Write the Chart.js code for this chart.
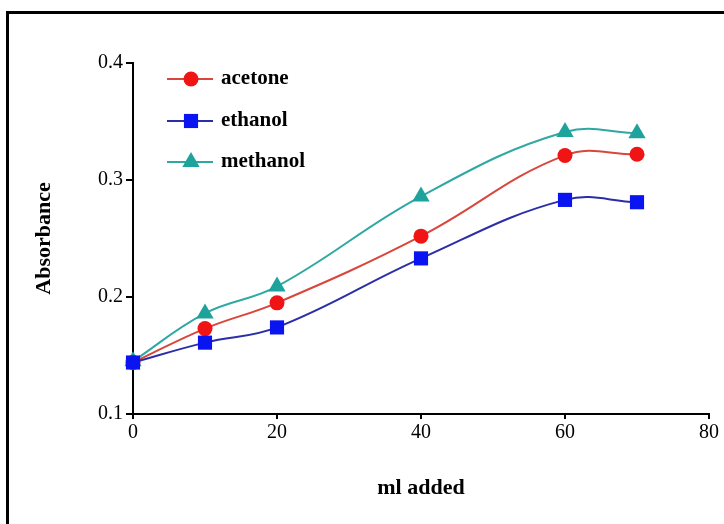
<!DOCTYPE html>
<html>
<head>
<meta charset="utf-8">
<script src="https://cdn.jsdelivr.net/npm/chart.js@4/dist/chart.umd.min.js"></script>
<style>
  html, body { margin: 0; padding: 0; background: #fff; overflow: hidden; }
  #wrap { position: relative; width: 724px; height: 524px; }
  #frame { position: absolute; left: 6px; top: 11px; width: 740px; height: 540px;
           border-left: 3px solid #000; border-top: 3px solid #000; pointer-events: none; }
</style>
</head>
<body>
<div id="wrap">
  <canvas id="c" width="724" height="524"></canvas>
  <div id="frame"></div>
</div>
<script>
const mlAdded = [0, 10, 20, 40, 60, 70];
const acetone = [0.144, 0.173, 0.195, 0.252, 0.321, 0.322];
const ethanol = [0.144, 0.161, 0.174, 0.233, 0.283, 0.281];
const methanol = [0.145, 0.186, 0.209, 0.286, 0.341, 0.340];
const xTicks = [0, 20, 40, 60, 80];
const yTicks = [0.1, 0.2, 0.3, 0.4];
const seriesNames = ['acetone', 'ethanol', 'methanol'];

const serif = "'Liberation Serif', 'DejaVu Serif', serif";

function pts(vals) { return mlAdded.map((x, i) => ({ x: x, y: vals[i] })); }

const styles = {
  acetone:  { line: '#d8463c', fill: '#f01414', shape: 'circle',   r: 7.5, order: 1 },
  ethanol:  { line: '#2b2ea6', fill: '#0a14f0', shape: 'rect',     r: 10,  order: 0 },
  methanol: { line: '#2fa8a3', fill: '#1ea39c', shape: 'triangle', r: 10,  order: 2 }
};
const seriesData = { acetone: acetone, ethanol: ethanol, methanol: methanol };

const datasets = seriesNames.map(n => ({
  label: n,
  data: pts(seriesData[n]),
  borderColor: styles[n].line,
  borderWidth: 2,
  backgroundColor: styles[n].fill,
  pointBackgroundColor: styles[n].fill,
  pointBorderColor: styles[n].fill,
  pointBorderWidth: 0,
  pointStyle: styles[n].shape,
  pointRadius: styles[n].r,
  tension: 0.4,
  order: styles[n].order,
  clip: false,
  showLine: true
}));

const legendPlugin = {
  id: 'insideLegend',
  afterDraw(chart) {
    const ctx = chart.ctx;
    const rows = [79, 121, 162];
    ctx.save();
    seriesNames.forEach((n, i) => {
      const y = rows[i];
      ctx.strokeStyle = styles[n].line;
      ctx.lineWidth = 2;
      ctx.beginPath();
      ctx.moveTo(167, y);
      ctx.lineTo(213, y);
      ctx.stroke();
      ctx.fillStyle = styles[n].fill;
      ctx.strokeStyle = styles[n].fill;
      Chart.helpers.drawPoint(ctx, { pointStyle: styles[n].shape, radius: styles[n].r, borderWidth: 0, rotation: 0 }, 191, y);
      ctx.fillStyle = '#000';
      ctx.font = "bold 21px " + serif;
      ctx.textBaseline = 'middle';
      ctx.textAlign = 'left';
      ctx.fillText(n, 221, y);
    });
    ctx.restore();
  }
};

new Chart(document.getElementById('c'), {
  type: 'scatter',
  data: { datasets: datasets },
  plugins: [legendPlugin],
  options: {
    responsive: false,
    animation: false,
    layout: { padding: { top: 63, right: 15, bottom: 0, left: 0 } },
    plugins: { legend: { display: false }, tooltip: { enabled: false } },
    scales: {
      x: {
        type: 'linear', min: 0, max: 80,
        afterBuildTicks: s => { s.ticks = xTicks.map(v => ({ value: v })); },
        afterFit: s => { s.height = 110; },
        border: { display: true, color: '#000', width: 2 },
        grid: { display: true, drawOnChartArea: false, drawTicks: true, tickLength: 5, color: '#000', lineWidth: 2 },
        ticks: { color: '#000', padding: 2, font: { family: serif, size: 20 } },
        title: { display: true, text: 'ml added', color: '#000', font: { family: serif, size: 22, weight: 'bold' }, padding: { top: 0, bottom: 22 } }
      },
      y: {
        type: 'linear', min: 0.1, max: 0.4,
        afterBuildTicks: s => { s.ticks = yTicks.map(v => ({ value: v })); },
        afterFit: s => { s.width = 133; },
        border: { display: true, color: '#000', width: 2 },
        grid: { display: true, drawOnChartArea: false, drawTicks: true, tickLength: 7, color: '#000', lineWidth: 2 },
        ticks: { color: '#000', padding: 3, font: { family: serif, size: 20 }, callback: v => v.toFixed(1) },
        title: { display: true, text: 'Absorbance', color: '#000', font: { family: serif, size: 22, weight: 'bold' }, padding: { top: 31, bottom: 0 } }
      }
    }
  }
});
</script>
</body>
</html>
